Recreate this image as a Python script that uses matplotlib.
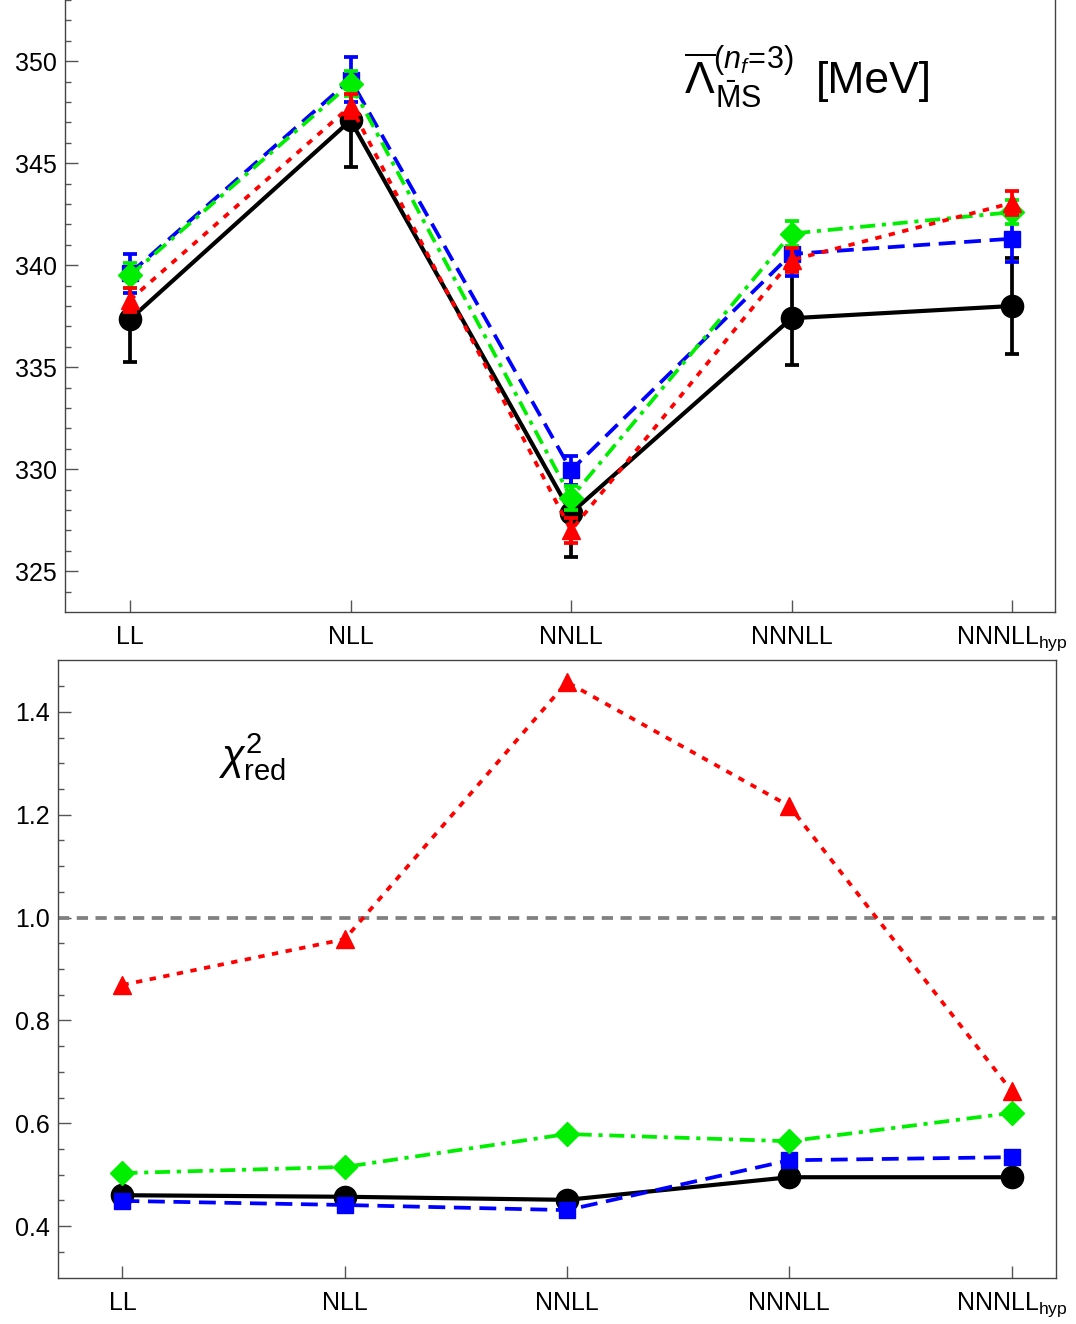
import matplotlib
matplotlib.use("Agg")
import matplotlib.pyplot as plt

plt.rcParams['font.family'] = ['Liberation Sans', 'DejaVu Sans']
plt.rcParams['mathtext.fontset'] = 'custom'
plt.rcParams['mathtext.rm'] = 'Liberation Sans'
plt.rcParams['mathtext.it'] = 'Liberation Sans:italic'
plt.rcParams['mathtext.bf'] = 'Liberation Sans:bold'

# orders of the resummation
orders = ["LL", "NLL", "NNLL", "NNNLL", r"NNNLL$_{\rm hyp}$"]
x = list(range(len(orders)))

# Lambda_MSbar (nf=3) in MeV, with errors
lam_black = [337.35, 347.1, 327.85, 337.4, 338.0]
err_black = [2.1, 2.3, 2.15, 2.3, 2.35]
lam_blue = [339.6, 349.1, 329.95, 340.55, 341.3]
err_blue = [0.95, 1.1, 0.7, 1.1, 1.15]
lam_green = [339.5, 348.9, 328.6, 341.55, 342.6]
err_green = [0.6, 0.6, 0.6, 0.6, 0.6]
lam_red = [338.3, 347.8, 327.0, 340.25, 343.05]
err_red = [0.6, 0.6, 0.6, 0.6, 0.6]

# reduced chi^2
chi_black = [0.460, 0.457, 0.451, 0.495, 0.495]
chi_blue = [0.449, 0.441, 0.431, 0.528, 0.534]
chi_green = [0.503, 0.515, 0.579, 0.565, 0.620]
chi_red = [0.869, 0.958, 1.458, 1.217, 0.663]

# colour, linestyle, marker, marker size
styles = {
    "black": ("black", "-", "o", 16),
    "blue": ("#0000ff", (0, (4.5, 2.3)), "s", 11),
    "green": ("#00ee00", (0, (4.0, 1.8, 1.1, 1.8)), "D", 12),
    "red": ("#ff0000", (0, (1.7, 2.0)), "^", 13),
}

fig = plt.figure(figsize=(10.76, 13.24), dpi=100)
ax1 = fig.add_axes([65 / 1076, 1 - 612 / 1324, 990 / 1076, 612 / 1324])
ax2 = fig.add_axes([58 / 1076, 1 - 1278 / 1324, 998 / 1076, 618 / 1324])

top_series = [("black", lam_black, err_black), ("blue", lam_blue, err_blue),
              ("green", lam_green, err_green), ("red", lam_red, err_red)]
for z, (name, vals, errs) in enumerate(top_series):
    c, ls, m, ms = styles[name]
    lw = 3.0 if name == "black" else 2.7
    ax1.plot(x, vals, color=c, linestyle=ls, linewidth=lw, zorder=3 + z)
    ax1.errorbar(x, vals, yerr=errs, fmt=m, color=c, markersize=ms,
                 elinewidth=2.7, capsize=5, capthick=2.7, zorder=3 + z)

ax2.axhline(1.0, color="#808080", linestyle=(0, (3, 2)), linewidth=2.7, zorder=2)
bottom_series = [("black", chi_black), ("blue", chi_blue),
                 ("green", chi_green), ("red", chi_red)]
for z, (name, vals) in enumerate(bottom_series):
    c, ls, m, ms = styles[name]
    lw = 3.0 if name == "black" else 2.7
    ax2.plot(x, vals, color=c, linestyle=ls, linewidth=lw, marker=m,
             markersize=ms, zorder=3 + z)

ax1.set_xlim(-0.295, 4.195)
ax1.set_ylim(323.0, 353.0)
ax1.set_yticks([325, 330, 335, 340, 345, 350])
ax1.set_yticks(range(324, 354), minor=True)

ax2.set_xlim(-0.29, 4.2)
ax2.set_ylim(0.299, 1.501)
ax2.set_yticks([0.4, 0.6, 0.8, 1.0, 1.2, 1.4])
ax2.set_yticklabels(["0.4", "0.6", "0.8", "1.0", "1.2", "1.4"])
ax2.set_yticks([0.35 + 0.05 * i for i in range(23)], minor=True)

for ax in (ax1, ax2):
    ax.set_xticks(x)
    ax.set_xticklabels(orders)
    for s in ax.spines.values():
        s.set_color("#444444")
        s.set_linewidth(1.0)
    ax.tick_params(axis="both", which="both", direction="in", color="#555555",
                   labelsize=18, labelcolor="black")
    ax.tick_params(axis="y", which="major", length=9, width=1.0, pad=6)
    ax.tick_params(axis="y", which="minor", length=4.5, width=1.0)
    ax.tick_params(axis="x", which="major", length=9, width=1.0, pad=9)
    ax.tick_params(axis="x", which="minor", bottom=False)

ax1.spines["top"].set_visible(False)

# Lambda label, built from pieces so the indices sit like the original
fig.text(684 / 1076, 1 - 80 / 1324, r"$\overline{\Lambda}$",
         fontsize=32, va="center", ha="left")
fig.text(713 / 1076, 1 - 60 / 1324, r"$(n_f\!=\!3)$",
         fontsize=22, va="center", ha="left")
fig.text(715 / 1076, 1 - 99 / 1324, r"$\bar{\rm M}{\rm S}$",
         fontsize=22, va="center", ha="left")
fig.text(816 / 1076, 1 - 81 / 1324, "[MeV]",
         fontsize=32, va="center", ha="left")
fig.text(218 / 1076, 1 - 757 / 1324, r"$\chi^2_{\rm red}$",
         fontsize=30, va="center", ha="left")

fig.savefig("out.png", dpi=100)
